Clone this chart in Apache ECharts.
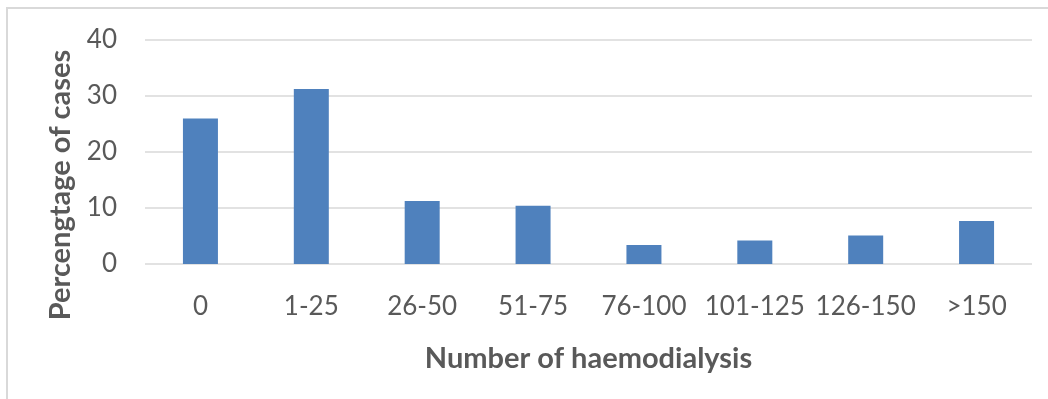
<!DOCTYPE html>
<html>
<head>
<meta charset="utf-8">
<script src="https://cdn.jsdelivr.net/npm/echarts@6/dist/echarts.min.js"></script>
<style>
  html, body { margin: 0; padding: 0; background: #fff; }
  #chart { width: 1048px; height: 399px; }
</style>
</head>
<body>
<div id="chart"></div>
<script>
// Share of cases by number of haemodialysis sessions
const categories = ['0', '1-25', '26-50', '51-75', '76-100', '101-125', '126-150', '>150'];
const percentages = [26.0, 31.25, 11.25, 10.4, 3.4, 4.2, 5.1, 7.7];
const yTicks = [0, 10, 20, 30, 40];

const textColor = '#595959';
const fontFamily = 'Lato, "Open Sans", sans-serif';

const chart = echarts.init(document.getElementById('chart'), null, { renderer: 'canvas' });

chart.setOption({
  animation: false,
  backgroundColor: '#fff',
  graphic: [
    {
      // chart frame
      type: 'rect',
      shape: { x: 7, y: 8, width: 1100, height: 500 },
      style: { fill: 'none', stroke: '#d9d9d9', lineWidth: 2 },
      silent: true
    },
    {
      type: 'text',
      x: 61, y: 185,
      rotation: Math.PI / 2,
      style: {
        text: 'Percengtage of cases',
        fill: textColor,
        font: 'bold 29px ' + fontFamily,
        align: 'center',
        verticalAlign: 'middle'
      }
    }
  ],
  grid: { left: 145, right: 16, top: 40, bottom: 135, containLabel: false },
  xAxis: {
    type: 'category',
    data: categories,
    axisLine: { show: false },
    axisTick: { show: false },
    axisLabel: { color: textColor, fontFamily: fontFamily, fontSize: 26, margin: 30, interval: 0 },
    name: 'Number of haemodialysis',
    nameLocation: 'middle',
    nameGap: 80,
    nameTextStyle: { color: textColor, fontFamily: fontFamily, fontSize: 29, fontWeight: 'bold' }
  },
  yAxis: {
    type: 'value',
    min: yTicks[0],
    max: yTicks[yTicks.length - 1],
    interval: yTicks[1] - yTicks[0],
    axisLine: { show: false },
    axisTick: { show: false },
    axisLabel: { color: textColor, fontFamily: fontFamily, fontSize: 26, margin: 28 },
    splitLine: { lineStyle: { color: '#d9d9d9', width: 1.6 } }
  },
  series: [{
    type: 'bar',
    data: percentages,
    barWidth: 35,
    itemStyle: { color: '#4f81bd' }
  }]
});
</script>
</body>
</html>
